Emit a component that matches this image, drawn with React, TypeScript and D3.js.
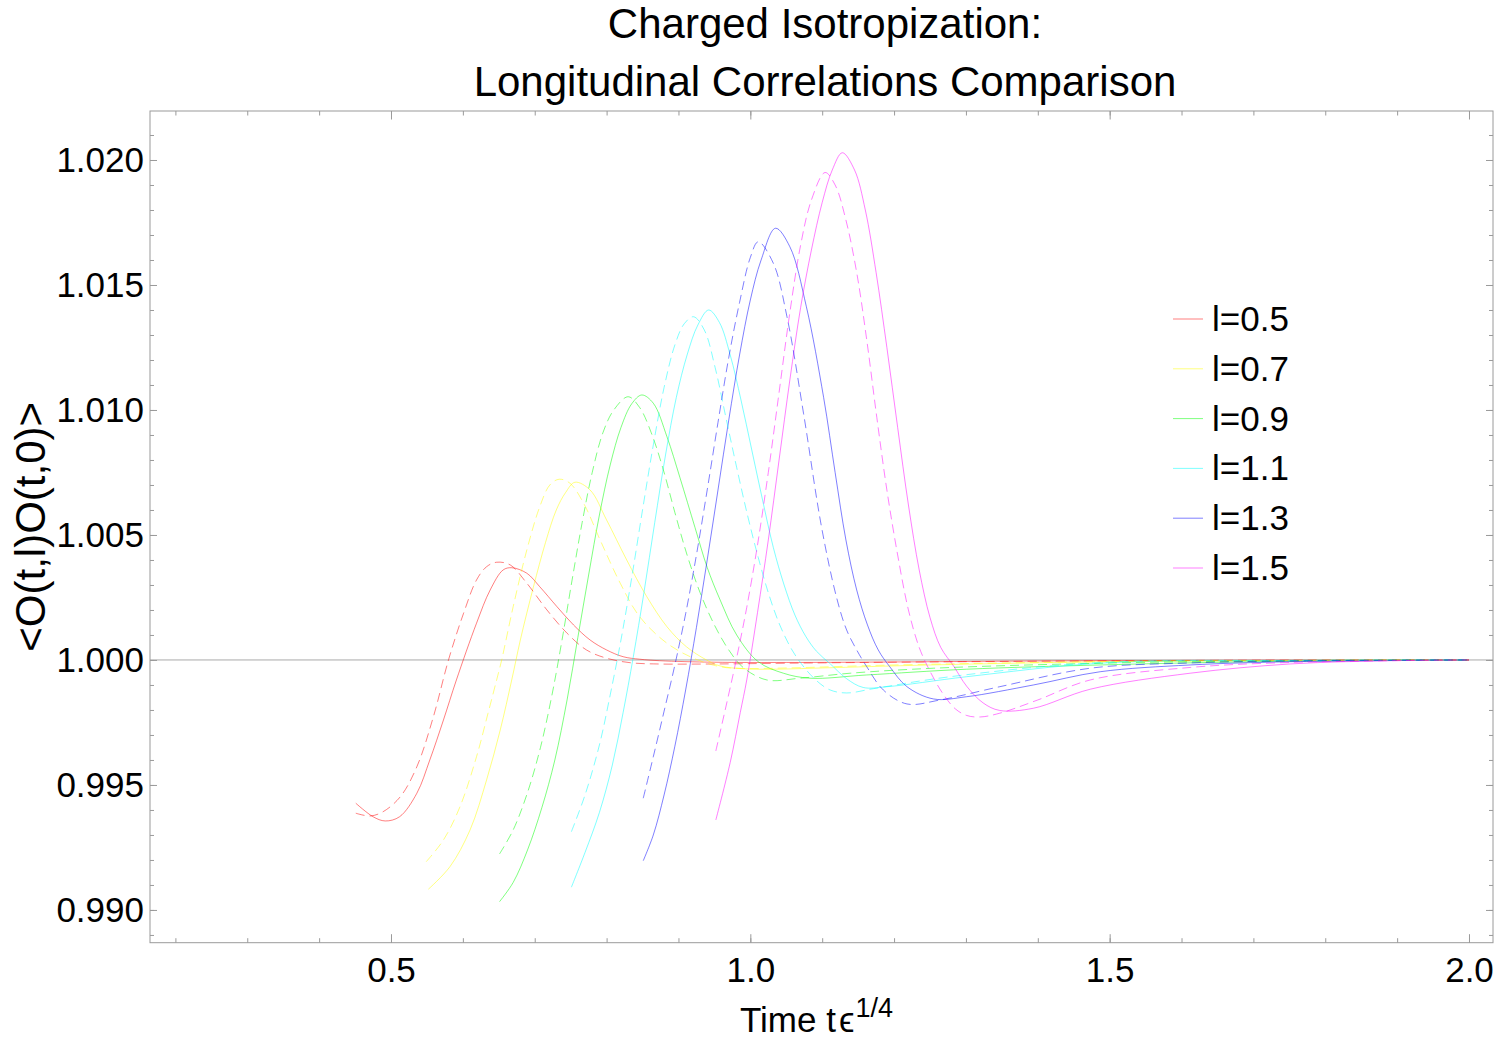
import React, { useEffect, useRef } from 'react';
import * as d3 from 'd3';

type Pt = [number, number];

// legend entries and their line colours
const lValues = ['0.5', '0.7', '0.9', '1.1', '1.3', '1.5'];
const lineColors = ['#ff0000', '#ffff00', '#00ff00', '#00ffff', '#0000ff', '#ff00ff'];

// solid curves, [t eps^(1/4), correlator]
const solid05: Pt[] = [
  [0.451, 0.99427], [0.475, 0.99373], [0.492, 0.99356], [0.512, 0.99373], [0.536, 0.99467],
  [0.554, 0.99600], [0.573, 0.99760], [0.591, 0.99920], [0.619, 1.00147], [0.638, 1.00280],
  [0.656, 1.00360], [0.668, 1.00369], [0.689, 1.00347], [0.707, 1.00293], [0.731, 1.00213],
  [0.754, 1.00140], [0.777, 1.00080], [0.800, 1.00040], [0.823, 1.00013], [0.846, 1.00003],
  [0.874, 0.99997], [0.950, 0.99991], [1.050, 0.99990], [1.200, 0.99992], [1.400, 0.99996],
  [1.700, 0.99999], [2.000, 1.00000],
];
const solid07: Pt[] = [
  [0.552, 0.99083], [0.582, 0.99173], [0.610, 0.99320], [0.633, 0.99520], [0.652, 0.99720],
  [0.668, 0.99920], [0.680, 1.00080], [0.698, 1.00290], [0.715, 1.00470], [0.730, 1.00600],
  [0.743, 1.00670], [0.756, 1.00711], [0.777, 1.00680], [0.800, 1.00560], [0.828, 1.00400],
  [0.856, 1.00253], [0.884, 1.00133], [0.911, 1.00053], [0.939, 1.00000], [0.958, 0.99976],
  [0.990, 0.99965], [1.030, 0.99963], [1.100, 0.99968], [1.250, 0.99980], [1.500, 0.99993],
  [1.750, 0.99998], [2.000, 1.00000],
];
const solid09: Pt[] = [
  [0.651, 0.99033], [0.670, 0.99110], [0.690, 0.99240], [0.710, 0.99410], [0.728, 0.99600],
  [0.745, 0.99840], [0.760, 1.00090], [0.775, 1.00340], [0.790, 1.00580], [0.805, 1.00780],
  [0.820, 1.00930], [0.835, 1.01025], [0.849, 1.01060], [0.865, 1.01027], [0.884, 1.00893],
  [0.902, 1.00730], [0.923, 1.00530], [0.940, 1.00370], [0.958, 1.00240], [0.981, 1.00100],
  [1.011, 0.99993], [1.046, 0.99947], [1.083, 0.99927], [1.162, 0.99940], [1.301, 0.99963],
  [1.487, 0.99980], [1.700, 0.99993], [2.000, 1.00000],
];
const solid11: Pt[] = [
  [0.751, 0.99091], [0.770, 0.99230], [0.790, 0.99390], [0.808, 0.99580], [0.823, 0.99790],
  [0.837, 1.00010], [0.852, 1.00270], [0.867, 1.00550], [0.882, 1.00820], [0.897, 1.01050],
  [0.912, 1.01220], [0.927, 1.01340], [0.942, 1.01400], [0.957, 1.01350], [0.972, 1.01220],
  [0.987, 1.01040], [1.002, 1.00840], [1.017, 1.00640], [1.032, 1.00450], [1.047, 1.00300],
  [1.062, 1.00180], [1.077, 1.00095], [1.092, 1.00035], [1.111, 0.99985], [1.134, 0.99925],
  [1.157, 0.99890], [1.190, 0.99893], [1.301, 0.99933], [1.487, 0.99987], [1.750, 0.99998],
  [2.000, 1.00000],
];
const solid13: Pt[] = [
  [0.851, 0.99197], [0.865, 0.99300], [0.880, 0.99460], [0.895, 0.99655], [0.910, 0.99880],
  [0.925, 1.00130], [0.940, 1.00400], [0.955, 1.00680], [0.970, 1.00960], [0.985, 1.01220],
  [1.000, 1.01440], [1.015, 1.01600], [1.035, 1.01727], [1.055, 1.01653], [1.078, 1.01413],
  [1.102, 1.01050], [1.118, 1.00750], [1.133, 1.00480], [1.148, 1.00280], [1.163, 1.00140],
  [1.178, 1.00040], [1.194, 0.99973], [1.218, 0.99893], [1.255, 0.99844], [1.301, 0.99853],
  [1.394, 0.99900], [1.487, 0.99953], [1.612, 0.99980], [1.751, 0.99993], [2.000, 1.00000],
];
const solid15: Pt[] = [
  [0.952, 0.99360], [0.972, 0.99590], [0.986, 0.99790], [0.995, 0.99920], [1.010, 1.00190],
  [1.025, 1.00480], [1.040, 1.00800], [1.055, 1.01120], [1.070, 1.01410], [1.085, 1.01640],
  [1.100, 1.01830], [1.114, 1.01960], [1.128, 1.02029], [1.145, 1.01960], [1.160, 1.01800],
  [1.175, 1.01550], [1.190, 1.01250], [1.205, 1.00930], [1.220, 1.00620], [1.235, 1.00360],
  [1.250, 1.00170], [1.265, 1.00050], [1.283, 0.99975], [1.301, 0.99895], [1.324, 0.99828],
  [1.347, 0.99798], [1.394, 0.99807], [1.473, 0.99883], [1.612, 0.99947], [1.751, 0.99984],
  [1.890, 0.99997], [2.000, 1.00000],
];

// dashed curves
const dashed05: Pt[] = [
  [0.451, 0.99387], [0.471, 0.99376], [0.489, 0.99393], [0.513, 0.99453], [0.536, 0.99573],
  [0.559, 0.99773], [0.580, 1.00000], [0.601, 1.00187], [0.619, 1.00320], [0.633, 1.00373],
  [0.647, 1.00391], [0.666, 1.00380], [0.689, 1.00307], [0.717, 1.00200], [0.745, 1.00107],
  [0.772, 1.00040], [0.800, 1.00007], [0.833, 0.99989], [0.870, 0.99984], [0.950, 0.99984],
  [1.050, 0.99987], [1.200, 0.99991], [1.400, 0.99995], [1.700, 0.99999], [2.000, 1.00000],
];
const dashed07: Pt[] = [
  [0.549, 0.99193], [0.573, 0.99280], [0.596, 0.99413], [0.619, 0.99613], [0.635, 0.99787],
  [0.647, 0.99920], [0.654, 1.00000], [0.670, 1.00213], [0.689, 1.00440], [0.707, 1.00613],
  [0.721, 1.00700], [0.734, 1.00723], [0.749, 1.00707], [0.768, 1.00627], [0.791, 1.00480],
  [0.819, 1.00307], [0.846, 1.00173], [0.884, 1.00067], [0.921, 1.00007], [0.958, 0.99973],
  [0.990, 0.99966], [1.050, 0.99968], [1.200, 0.99980], [1.500, 0.99994], [1.750, 0.99998],
  [2.000, 1.00000],
];
const dashed09: Pt[] = [
  [0.651, 0.99224], [0.670, 0.99320], [0.690, 0.99470], [0.708, 0.99650], [0.724, 0.99860],
  [0.738, 1.00080], [0.752, 1.00320], [0.766, 1.00550], [0.780, 1.00750], [0.795, 1.00910],
  [0.810, 1.01000], [0.830, 1.01053], [0.846, 1.01010], [0.862, 1.00910], [0.878, 1.00770],
  [0.895, 1.00590], [0.912, 1.00420], [0.930, 1.00270], [0.950, 1.00140], [0.970, 1.00040],
  [0.990, 0.99970], [1.023, 0.99920], [1.069, 0.99927], [1.139, 0.99947], [1.255, 0.99967],
  [1.487, 0.99987], [1.750, 0.99997], [2.000, 1.00000],
];
const dashed11: Pt[] = [
  [0.751, 0.99313], [0.770, 0.99460], [0.790, 0.99660], [0.805, 0.99860], [0.820, 1.00080],
  [0.835, 1.00330], [0.850, 1.00600], [0.865, 1.00860], [0.880, 1.01090], [0.895, 1.01260],
  [0.908, 1.01345], [0.921, 1.01373], [0.936, 1.01320], [0.951, 1.01170], [0.966, 1.00970],
  [0.981, 1.00770], [0.996, 1.00580], [1.011, 1.00410], [1.026, 1.00260], [1.041, 1.00140],
  [1.058, 1.00040], [1.075, 0.99970], [1.093, 0.99915], [1.111, 0.99880], [1.134, 0.99868],
  [1.171, 0.99885], [1.278, 0.99933], [1.487, 0.99990], [1.750, 0.99998], [2.000, 1.00000],
];
const dashed13: Pt[] = [
  [0.851, 0.99447], [0.865, 0.99613], [0.880, 0.99795], [0.895, 0.99980], [0.910, 1.00185],
  [0.925, 1.00420], [0.940, 1.00680], [0.955, 1.00950], [0.970, 1.01210], [0.985, 1.01430],
  [1.000, 1.01610], [1.011, 1.01673], [1.032, 1.01587], [1.051, 1.01373], [1.074, 1.00987],
  [1.099, 1.00533], [1.120, 1.00250], [1.134, 1.00120], [1.148, 1.00040], [1.162, 0.99973],
  [1.185, 0.99880], [1.218, 0.99824], [1.264, 0.99840], [1.347, 0.99893], [1.473, 0.99967],
  [1.612, 0.99988], [1.750, 0.99996], [2.000, 1.00000],
];
const dashed15: Pt[] = [
  [0.952, 0.99636], [0.965, 0.99800], [0.980, 0.99995], [0.995, 1.00210], [1.010, 1.00460],
  [1.025, 1.00750], [1.040, 1.01070], [1.055, 1.01390], [1.070, 1.01660], [1.085, 1.01840],
  [1.104, 1.01950], [1.118, 1.01900], [1.133, 1.01760], [1.148, 1.01550], [1.162, 1.01280],
  [1.176, 1.00970], [1.190, 1.00680], [1.205, 1.00420], [1.220, 1.00200], [1.235, 1.00050],
  [1.250, 0.99955], [1.268, 0.99865], [1.285, 0.99805], [1.301, 0.99778], [1.320, 0.99772],
  [1.347, 0.99787], [1.400, 0.99840], [1.473, 0.99920], [1.612, 0.99970], [1.751, 0.99990],
  [2.000, 1.00000],
];

const solidSeries = [solid05, solid07, solid09, solid11, solid13, solid15];
const dashedSeries = [dashed05, dashed07, dashed09, dashed11, dashed13, dashed15];

const xMajorTicks = [0.5, 1.0, 1.5, 2.0];
const xTickLabels = ['0.5', '1.0', '1.5', '2.0'];
const yMajorTicks = [0.99, 0.995, 1.0, 1.005, 1.01, 1.015, 1.02];
const yTickLabels = ['0.990', '0.995', '1.000', '1.005', '1.010', '1.015', '1.020'];

const App = () => {
  const chartRef = useRef<HTMLDivElement>(null);

  const width = 1500;
  const height = 1044;
  const plot = { left: 150, right: 1493, top: 111, bottom: 942.7 };
  const font = "'Liberation Sans', Arial, sans-serif";
  const frameColor = '#9a9a9a';

  useEffect(() => {
    d3.select(chartRef.current).selectAll('*').remove();

    const svg = d3.select(chartRef.current)
      .append('svg')
      .attr('width', width)
      .attr('height', height)
      .style('display', 'block')
      .attr('font-family', font);

    svg.append('rect').attr('width', width).attr('height', height).attr('fill', '#fff');

    const x = d3.scaleLinear().domain([0.16466, 2.0334]).range([plot.left, plot.right]);
    const y = d3.scaleLinear().domain([0.98869, 1.02196]).range([plot.bottom, plot.top]);

    const xMinor = d3.range(2, 21).map(d => d / 10);
    const yMinor = d3.range(989, 1022).map(d => d / 1000);

    const plain = (g: any) => {
      g.select('.domain').remove();
      g.selectAll('line').attr('stroke', frameColor);
    };

    // y = 1 reference line
    svg.append('line')
      .attr('x1', plot.left).attr('x2', plot.right)
      .attr('y1', y(1)).attr('y2', y(1))
      .attr('stroke', '#aaaaaa').attr('stroke-width', 1);

    // frame
    svg.append('rect')
      .attr('x', plot.left).attr('y', plot.top)
      .attr('width', plot.right - plot.left).attr('height', plot.bottom - plot.top)
      .attr('fill', 'none').attr('stroke', frameColor).attr('stroke-width', 1);

    // ticks on all four sides, pointing inwards
    svg.append('g').attr('transform', `translate(0,${plot.bottom})`)
      .call(d3.axisBottom(x).tickValues(xMinor).tickSize(-4.5).tickFormat(() => ''))
      .call(plain);
    svg.append('g').attr('transform', `translate(0,${plot.top})`)
      .call(d3.axisTop(x).tickValues(xMinor).tickSize(-4.5).tickFormat(() => ''))
      .call(plain);
    svg.append('g').attr('transform', `translate(${plot.left},0)`)
      .call(d3.axisLeft(y).tickValues(yMinor).tickSize(-4).tickFormat(() => ''))
      .call(plain);
    svg.append('g').attr('transform', `translate(${plot.right},0)`)
      .call(d3.axisRight(y).tickValues(yMinor).tickSize(-4).tickFormat(() => ''))
      .call(plain);

    svg.append('g').attr('transform', `translate(0,${plot.top})`)
      .call(d3.axisTop(x).tickValues(xMajorTicks).tickSize(-8.5).tickFormat(() => ''))
      .call(plain);
    svg.append('g').attr('transform', `translate(${plot.right},0)`)
      .call(d3.axisRight(y).tickValues(yMajorTicks).tickSize(-7).tickFormat(() => ''))
      .call(plain);

    svg.append('g').attr('transform', `translate(0,${plot.bottom})`)
      .call(d3.axisBottom(x).tickValues(xMajorTicks).tickSize(-8.5).tickPadding(14)
        .tickFormat((d, i) => xTickLabels[i]))
      .call(plain)
      .call(g => g.selectAll('text')
        .attr('fill', '#000').attr('font-size', 35).attr('font-family', font));

    svg.append('g').attr('transform', `translate(${plot.left},0)`)
      .call(d3.axisLeft(y).tickValues(yMajorTicks).tickSize(-7).tickPadding(6)
        .tickFormat((d, i) => yTickLabels[i]))
      .call(plain)
      .call(g => g.selectAll('text')
        .attr('fill', '#000').attr('font-size', 35).attr('font-family', font));

    // curves
    const line = d3.line<Pt>()
      .x(d => x(d[0]))
      .y(d => y(d[1]))
      .curve(d3.curveCatmullRom.alpha(0.5));

    const curves = svg.append('g')
      .attr('fill', 'none')
      .attr('stroke-width', 1)
      .attr('stroke-opacity', 0.5);

    solidSeries.forEach((data, i) => {
      curves.append('path').attr('d', line(data)).attr('stroke', lineColors[i]);
    });
    dashedSeries.forEach((data, i) => {
      curves.append('path').attr('d', line(data)).attr('stroke', lineColors[i])
        .attr('stroke-dasharray', '9,5');
    });

    // legend
    const legend = svg.append('g').attr('transform', 'translate(1173,319)');
    lValues.forEach((l, i) => {
      const row = legend.append('g').attr('transform', `translate(0,${i * 49.8})`);
      row.append('line')
        .attr('x1', 0).attr('x2', 30)
        .attr('stroke', lineColors[i]).attr('stroke-opacity', 0.5);
      row.append('text')
        .attr('x', 39).attr('y', 12)
        .attr('font-size', 35)
        .text(`l=${l}`);
    });

    // titles
    const cx = 825;
    svg.append('text')
      .attr('x', cx).attr('y', 38)
      .attr('text-anchor', 'middle').attr('font-size', 42)
      .text('Charged Isotropization:');
    svg.append('text')
      .attr('x', cx).attr('y', 96)
      .attr('text-anchor', 'middle').attr('font-size', 42)
      .text('Longitudinal Correlations Comparison');

    const xLabel = svg.append('text')
      .attr('x', 740).attr('y', 1032)
      .attr('font-size', 35);
    xLabel.append('tspan').text('Time t');
    xLabel.append('tspan').attr('dx', 3).text('ϵ');
    xLabel.append('tspan').attr('dx', 1).attr('dy', -15).attr('font-size', 27).text('1/4');

    svg.append('text')
      .attr('transform', `translate(45,${(plot.top + plot.bottom) / 2}) rotate(-90)`)
      .attr('text-anchor', 'middle').attr('font-size', 42)
      .text('<O(t,l)O(t,0)>');
  }, []);

  return (
    <div style={{ position: 'absolute', left: 0, top: 0, width: width, height: height }} ref={chartRef} />
  );
};

export default App;
